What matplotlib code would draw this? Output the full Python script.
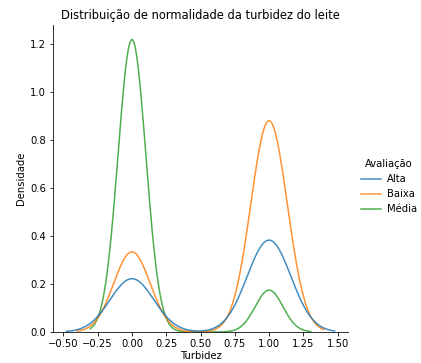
import numpy as np
import pandas as pd
import matplotlib
matplotlib.use("Agg")
import matplotlib.pyplot as plt
import seaborn as sns
from matplotlib.lines import Line2D

# Counts of milk samples by grade and turbidity (0 / 1)
categories = ["Alta", "Baixa", "Média"]
turbidity_values = [0, 1]
count_turb0 = [94, 118, 328]
count_turb1 = [162, 311, 47]

rows = []
for cat, c0, c1 in zip(categories, count_turb0, count_turb1):
    rows += [(0, cat)] * c0 + [(1, cat)] * c1
df = pd.DataFrame(rows, columns=["Turbidez", "Avaliação"])

fig = plt.figure(figsize=(421 / 72, 363 / 72), dpi=72)
ax = fig.add_axes([53 / 421, 31 / 363, (348 - 53) / 421, (332 - 25) / 363])

palette = dict(zip(categories, sns.color_palette("tab10", 3)))
sns.kdeplot(data=df, x="Turbidez", hue="Avaliação", hue_order=categories,
            palette=palette, ax=ax, legend=False, linewidth=1.5, alpha=0.85)

ax.set_xticks([-0.5, -0.25, 0, 0.25, 0.5, 0.75, 1.0, 1.25, 1.5])
ax.set_xticklabels(["−0.50", "−0.25", "0.00", "0.25", "0.50", "0.75", "1.00", "1.25", "1.50"])
ax.set_yticks([0, 0.2, 0.4, 0.6, 0.8, 1.0, 1.2])
ax.set_ylim(0, None)
ax.spines["top"].set_visible(False)
ax.spines["right"].set_visible(False)
ax.set_xlabel("Turbidez", fontsize=10, labelpad=2)
ax.set_ylabel("Densidade", fontsize=10)
ax.set_title("Distribuição de normalidade da turbidez do leite", fontsize=11.5)

handles = [Line2D([0], [0], color=palette[c], lw=1.5, alpha=0.85) for c in categories]
fig.legend(handles, categories, title="Avaliação", loc="center left",
           bbox_to_anchor=(352 / 421, 0.485), frameon=False, fontsize=10,
           title_fontsize=10, handlelength=2, handletextpad=0.6)

fig.savefig("out.png", dpi=72)
